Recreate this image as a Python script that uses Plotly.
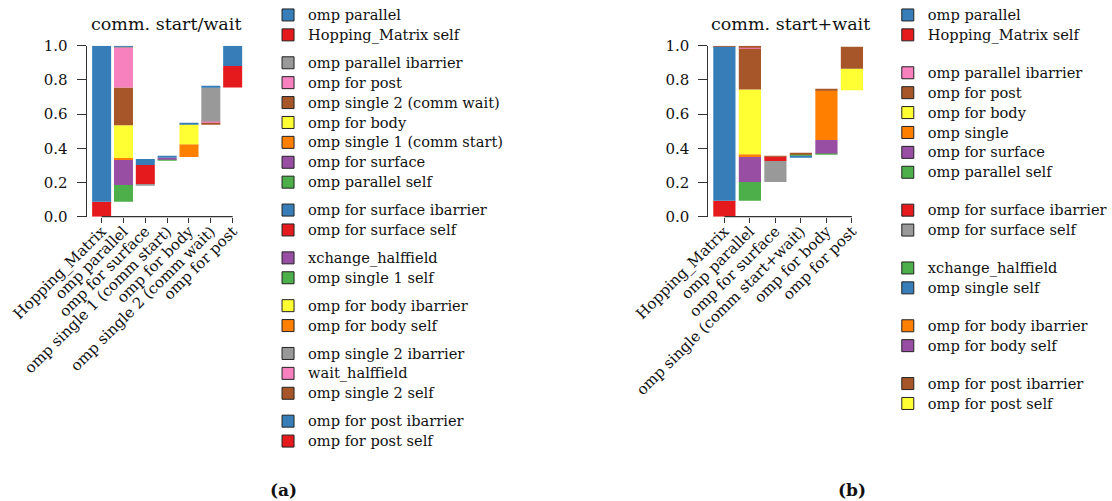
import plotly.graph_objects as go

RED = "#E41A1C"; BLUE = "#377EB8"; GREEN = "#4DAF4A"; PURPLE = "#984EA3"
ORANGE = "#FF7F00"; YELLOW = "#FFFF33"; BROWN = "#A65628"; PINK = "#F781BF"; GRAY = "#999999"

FONT = "DejaVu Serif"
AXIS_COLOR = "#333333"

# ---------------- (a) comm. start/wait ----------------
LEFT_TITLE = "comm. start/wait"
LEFT_CATEGORIES = ["Hopping_Matrix", "omp parallel", "omp for surface",
                   "omp single 1 (comm start)", "omp for body",
                   "omp single 2 (comm wait)", "omp for post"]
LEFT_BAR_START = [0.0, 0.087, 0.186, 0.331, 0.349, 0.541, 0.756]
# segments bottom -> top ("" = unlabelled sliver)
LEFT_SEGMENT_NAMES = [
    ["Hopping_Matrix self", "omp parallel"],
    ["omp parallel self", "omp for surface", "omp single 1 (comm start)", "omp for body",
     "omp single 2 (comm wait)", "omp for post", "omp parallel ibarrier", ""],
    ["", "omp for surface self", "omp for surface ibarrier"],
    ["omp single 1 self", "xchange_halffield", ""],
    ["omp for body self", "omp for body ibarrier", ""],
    ["omp single 2 self", "wait_halffield", "omp single 2 ibarrier", ""],
    ["omp for post self", "omp for post ibarrier"],
]
LEFT_SEGMENT_VALUES = [
    [0.087, 0.913],
    [0.099, 0.145, 0.012, 0.192, 0.221, 0.238, 0.002, 0.004],
    [0.005, 0.111, 0.035],
    [0.008, 0.006, 0.010],
    [0.075, 0.117, 0.006],
    [0.011, 0.005, 0.199, 0.005],
    [0.126, 0.118],
]
LEFT_SEGMENT_COLORS = [
    [RED, BLUE],
    [GREEN, PURPLE, ORANGE, YELLOW, BROWN, PINK, GRAY, BLUE],
    [GRAY, RED, BLUE],
    [GREEN, PURPLE, BLUE],
    [ORANGE, YELLOW, BLUE],
    [BROWN, PINK, GRAY, BLUE],
    [RED, BLUE],
]

# ---------------- (b) comm. start+wait ----------------
RIGHT_TITLE = "comm. start+wait"
RIGHT_CATEGORIES = ["Hopping_Matrix", "omp parallel", "omp for surface",
                    "omp single (comm start+wait)", "omp for body", "omp for post"]
RIGHT_BAR_START = [0.0, 0.093, 0.203, 0.349, 0.366, 0.740]
RIGHT_SEGMENT_NAMES = [
    ["Hopping_Matrix self", "omp parallel", ""],
    ["omp parallel self", "omp for surface", "omp single", "omp for body",
     "omp for post", "omp parallel ibarrier", ""],
    ["omp for surface self", "omp for surface ibarrier", ""],
    ["omp single self", "xchange_halffield", ""],
    ["", "omp for body self", "omp for body ibarrier", ""],
    ["omp for post self", "omp for post ibarrier"],
]
RIGHT_SEGMENT_VALUES = [
    [0.093, 0.904, 0.003],
    [0.110, 0.146, 0.017, 0.378, 0.244, 0.006, 0.005],
    [0.123, 0.026, 0.004],
    [0.010, 0.006, 0.004],
    [0.004, 0.079, 0.291, 0.004],
    [0.126, 0.128],
]
RIGHT_SEGMENT_COLORS = [
    [RED, BLUE, BROWN],
    [GREEN, PURPLE, ORANGE, YELLOW, BROWN, PINK, BROWN],
    [GRAY, RED, BROWN],
    [BLUE, GREEN, BROWN],
    [GREEN, PURPLE, ORANGE, BROWN],
    [YELLOW, BROWN],
]

W, H = 1112, 501
fig = go.Figure()


def add_chart(cats, starts, names, values, colors, xa, ya, legend_id, tag):
    xref = "x" if xa == "xaxis" else "x2"
    yref = "y" if ya == "yaxis" else "y2"
    # bars
    for cat, start, nms, vals, cols in zip(cats, starts, names, values, colors):
        base = start
        for nm, v, c in zip(nms, vals, cols):
            fig.add_trace(go.Bar(
                x=[cat], y=[v], base=[base], width=0.87,
                marker=dict(color=c, line=dict(width=0)),
                name=nm if nm else "other", showlegend=False,
                xaxis=xref, yaxis=yref, hoverinfo="x+y+name"))
            base += v
    # legend entries (top -> bottom per bar group)
    for i, (nms, cols) in enumerate(zip(names, colors)):
        for nm, c in reversed(list(zip(nms, cols))):
            if not nm:
                continue
            fig.add_trace(go.Bar(
                x=[None], y=[None],
                marker=dict(color=c, line=dict(color="#222222", width=1)),
                name='<span style="font-size:14.6px">%s</span>' % nm,
                legendgroup="%s%d" % (tag, i), legend=legend_id,
                showlegend=True, xaxis=xref, yaxis=yref))


add_chart(LEFT_CATEGORIES, LEFT_BAR_START, LEFT_SEGMENT_NAMES, LEFT_SEGMENT_VALUES,
          LEFT_SEGMENT_COLORS, "xaxis", "yaxis", "legend", "L")
add_chart(RIGHT_CATEGORIES, RIGHT_BAR_START, RIGHT_SEGMENT_NAMES, RIGHT_SEGMENT_VALUES,
          RIGHT_SEGMENT_COLORS, "xaxis2", "yaxis2", "legend2", "R")

y_dom = [1 - 215 / H, 1 - 43 / H]
Y_TICKS = [0.0, 0.2, 0.4, 0.6, 0.8, 1.0]
Y_TICK_TEXT = ["%.1f" % t for t in Y_TICKS]


def xaxis_cfg(dom, rng, anchor):
    return dict(domain=dom, range=rng, type="category", anchor=anchor,
                tickangle=-45, ticks="outside", ticklen=5, tickwidth=1.3,
                tickcolor=AXIS_COLOR, showline=False, showgrid=False, zeroline=False,
                ticklabelstandoff=-6,
                tickfont=dict(family=FONT, size=15, color="#111111"),
                automargin=False, fixedrange=True)


def yaxis_cfg(anchor):
    return dict(domain=y_dom, range=[0, 1], anchor=anchor, tickvals=Y_TICKS,
                ticktext=Y_TICK_TEXT, ticks="outside", ticklen=9, tickwidth=1.3,
                tickcolor=AXIS_COLOR, showline=True, linecolor=AXIS_COLOR,
                linewidth=1.3, showgrid=False, zeroline=False,
                ticklabelstandoff=6,
                tickfont=dict(family=FONT, size=15, color="#111111"),
                automargin=False, fixedrange=True)


left_dom = [87 / W, 244.9 / W]
right_dom = [711 / W, 870 / W]

legend_common = dict(xanchor="left", yanchor="top", traceorder="grouped",
                     borderwidth=0, bgcolor="rgba(0,0,0,0)", maxheight=560,
                     font=dict(family=FONT, size=13, color="#111111"),
                     itemclick=False, itemdoubleclick=False)

fig.update_layout(
    width=W, height=H, template="none",
    margin=dict(l=0, r=0, t=0, b=0),
    paper_bgcolor="white", plot_bgcolor="white",
    barmode="overlay",
    font=dict(family=FONT, size=14, color="#111111"),
    xaxis=xaxis_cfg(left_dom, [-0.684, 6.52], "y"),
    yaxis=yaxis_cfg("x"),
    xaxis2=xaxis_cfg(right_dom, [-0.625, 5.586], "y2"),
    yaxis2=yaxis_cfg("x2"),
    legend=dict(x=269 / W, y=1 + 3 / H, tracegroupgap=8, **legend_common),
    legend2=dict(x=891 / W, y=1 + 3 / H, tracegroupgap=18, **legend_common),
    shapes=[
        dict(type="line", xref="x", yref="y domain", x0=0, x1=len(LEFT_CATEGORIES) - 1,
             y0=0, y1=0, line=dict(color=AXIS_COLOR, width=1.3)),
        dict(type="line", xref="x2", yref="y2 domain", x0=0, x1=len(RIGHT_CATEGORIES) - 1,
             y0=0, y1=0, line=dict(color=AXIS_COLOR, width=1.3)),
    ],
    annotations=[
        dict(text=LEFT_TITLE, x=167 / W, y=1 - 21 / H, xref="paper", yref="paper",
             xanchor="center", yanchor="middle", showarrow=False,
             font=dict(family=FONT, size=17.5, color="#111111")),
        dict(text=RIGHT_TITLE, x=793 / W, y=1 - 21 / H, xref="paper", yref="paper",
             xanchor="center", yanchor="middle", showarrow=False,
             font=dict(family=FONT, size=17.5, color="#111111")),
        dict(text="<b>(a)</b>", x=285 / W, y=1 - 490 / H, xref="paper", yref="paper",
             xanchor="center", yanchor="middle", showarrow=False,
             font=dict(family=FONT, size=17, color="#111111")),
        dict(text="<b>(b)</b>", x=855 / W, y=1 - 490 / H, xref="paper", yref="paper",
             xanchor="center", yanchor="middle", showarrow=False,
             font=dict(family=FONT, size=17, color="#111111")),
    ],
)

fig.write_html("out.html", config={"displayModeBar": False},
               post_script="document.body.style.margin='0';document.body.style.overflow='hidden';")
